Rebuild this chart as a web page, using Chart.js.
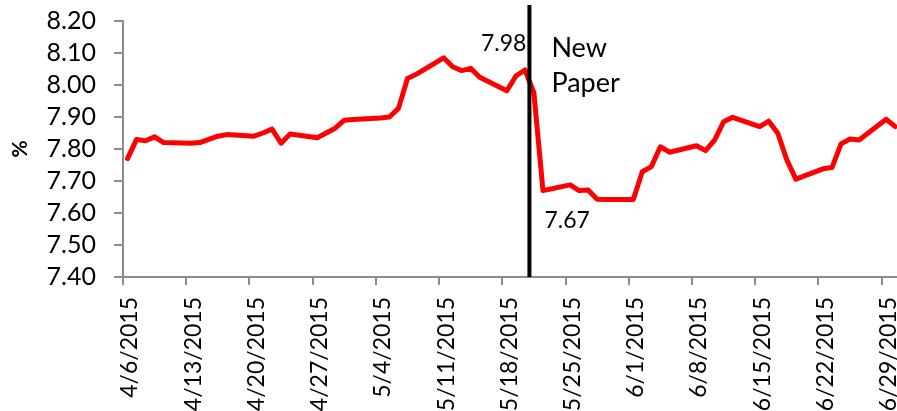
<!DOCTYPE html>
<html>
<head>
<meta charset="utf-8">
<title>Rate</title>
<script src="https://cdn.jsdelivr.net/npm/chart.js@4.4.1/dist/chart.umd.min.js"></script>
<style>
  html, body { margin: 0; padding: 0; background: #fff; overflow: hidden; }
</style>
</head>
<body>
<canvas id="myChart" width="897" height="411"></canvas>
<script>
'use strict';

const dates = [
  '4/6/2015', '4/7/2015', '4/8/2015', '4/9/2015', '4/10/2015',
  '4/13/2015', '4/14/2015', '4/15/2015', '4/16/2015', '4/17/2015',
  '4/20/2015', '4/21/2015', '4/22/2015', '4/23/2015', '4/24/2015',
  '4/27/2015', '4/28/2015', '4/29/2015', '4/30/2015', '5/1/2015',
  '5/4/2015', '5/5/2015', '5/6/2015', '5/7/2015', '5/8/2015',
  '5/11/2015', '5/12/2015', '5/13/2015', '5/14/2015', '5/15/2015',
  '5/18/2015', '5/19/2015', '5/20/2015', '5/21/2015', '5/22/2015',
  '5/25/2015', '5/26/2015', '5/27/2015', '5/28/2015', '5/29/2015',
  '6/1/2015', '6/2/2015', '6/3/2015', '6/4/2015', '6/5/2015',
  '6/8/2015', '6/9/2015', '6/10/2015', '6/11/2015', '6/12/2015',
  '6/15/2015', '6/16/2015', '6/17/2015', '6/18/2015', '6/19/2015',
  '6/22/2015', '6/23/2015', '6/24/2015', '6/25/2015', '6/26/2015',
  '6/29/2015', '6/30/2015'
];

const rates = [
  7.77, 7.83, 7.826, 7.838, 7.82,
  7.818, 7.82, 7.83, 7.84, 7.845,
  7.84, 7.85, 7.862, 7.818, 7.847,
  7.835, 7.85, 7.865, 7.89, 7.892,
  7.897, 7.90, 7.927, 8.02, 8.034,
  8.085, 8.057, 8.045, 8.052, 8.024,
  7.982, 8.028, 8.047, 7.975, 7.67,
  7.688, 7.67, 7.672, 7.643, 7.642,
  7.642, 7.729, 7.745, 7.807, 7.79,
  7.81, 7.795, 7.828, 7.885, 7.899,
  7.87, 7.887, 7.849, 7.766, 7.706,
  7.738, 7.742, 7.816, 7.831, 7.828,
  7.893, 7.87
];

const tickLabels = [
  '4/6/2015', '4/13/2015', '4/20/2015', '4/27/2015', '5/4/2015',
  '5/11/2015', '5/18/2015', '5/25/2015', '6/1/2015', '6/8/2015',
  '6/15/2015', '6/22/2015', '6/29/2015'
];

const yTicks = [7.4, 7.5, 7.6, 7.7, 7.8, 7.9, 8.0, 8.1, 8.2];

const markerDate = '5/21/2015';
const markerLabels = ['New', 'Paper'];
const beforeLabel = '7.98';
const afterLabel = '7.67';

const FONT = 'Lato, "Open Sans", sans-serif';

// days since the first date; a point sits in the middle of its day
function dayOf( str ) {
  const p = str.split( '/' );
  const d = new Date( +p[2], +p[0] - 1, +p[1] );
  const base = new Date( 2015, 3, 6 );
  return Math.round( ( d - base ) / 86400000 );
}

let points = [];
for ( let i = 0; i < dates.length; i++ ) {
  points.push( { x: dayOf( dates[i] ), y: rates[i] } );
}

const markerX = dayOf( markerDate ) - 0.5;

const textPlugin = {
  id: 'textPlugin',
  afterDraw( chart ) {
    const ctx = chart.ctx;
    const xs = chart.scales.x;
    const ys = chart.scales.y;
    const mx = xs.getPixelForValue( markerX );
    ctx.save();
    ctx.fillStyle = '#000';
    ctx.font = '23px ' + FONT;
    ctx.textBaseline = 'middle';
    ctx.textAlign = 'right';
    ctx.fillText( beforeLabel, mx - 3, ys.getPixelForValue( 8.13 ) );
    ctx.textAlign = 'left';
    ctx.fillText( afterLabel, mx + 15, ys.getPixelForValue( 7.575 ) );
    ctx.font = '27px ' + FONT;
    ctx.textBaseline = 'alphabetic';
    ctx.fillText( markerLabels[0], mx + 22, ys.getPixelForValue( 8.0875 ) );
    ctx.fillText( markerLabels[1], mx + 22, ys.getPixelForValue( 7.978 ) );
    ctx.restore();
  }
};

let ctx = document.getElementById( 'myChart' ).getContext( '2d' );
let myChart = new Chart( ctx, {
  type: 'line',
  data: {
    datasets: [{
      label: 'marker',
      data: [{ x: markerX, y: 7.4 }, { x: markerX, y: 8.25 }],
      borderColor: '#000',
      borderWidth: 4,
      pointRadius: 0,
      clip: false,
      order: 0
    }, {
      label: 'rate',
      data: points,
      borderColor: '#ff0000',
      borderWidth: 5,
      pointRadius: 0,
      tension: 0,
      borderJoinStyle: 'round',
      borderCapStyle: 'round',
      order: 1
    }]
  },
  options: {
    responsive: false,
    animation: false,
    layout: { padding: { top: 21, right: 0, left: 0, bottom: 0 } },
    plugins: {
      legend: { display: false },
      tooltip: { enabled: false }
    },
    scales: {
      x: {
        type: 'linear',
        min: -0.5,
        max: 85.2,
        afterFit( scale ) {
          scale.height = 134;
          scale.paddingLeft = 0;
          scale.paddingRight = 0;
        },
        afterBuildTicks( scale ) {
          scale.ticks = tickLabels.map( l => ( { value: dayOf( l ) - 0.5 } ) );
        },
        grid: { drawOnChartArea: false, color: '#8c8c8c', lineWidth: 2, tickLength: 8 },
        border: { color: '#8c8c8c', width: 2 },
        ticks: {
          autoSkip: false,
          minRotation: 90,
          maxRotation: 90,
          padding: 12,
          labelOffset: 7,
          color: '#000',
          font: { family: FONT, size: 23 },
          callback: ( v, i ) => tickLabels[i]
        }
      },
      y: {
        min: 7.4,
        max: 8.2,
        afterFit( scale ) {
          scale.width = 123;
          scale.paddingTop = 0;
          scale.paddingBottom = 0;
        },
        afterBuildTicks( scale ) {
          scale.ticks = yTicks.map( v => ( { value: v } ) );
        },
        grid: { drawOnChartArea: false, color: '#8c8c8c', lineWidth: 2, tickLength: 9 },
        border: { color: '#8c8c8c', width: 2 },
        ticks: {
          autoSkip: false,
          padding: 18,
          color: '#000',
          font: { family: FONT, size: 25 },
          callback: v => v.toFixed( 2 )
        },
        title: {
          display: true,
          text: '%',
          color: '#000',
          font: { family: FONT, size: 21, weight: 'bold' },
          padding: { top: 8, bottom: 0 }
        }
      }
    }
  },
  plugins: [textPlugin]
} );
</script>
</body>
</html>
